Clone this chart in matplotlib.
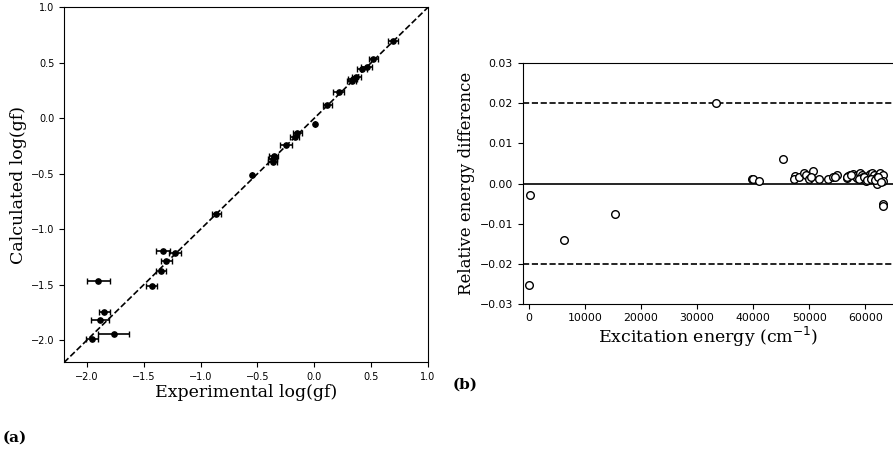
import numpy as np
import matplotlib
matplotlib.use('Agg')
import matplotlib.pyplot as plt

# (a) log(gf): experimental vs calculated, with experimental uncertainty
exp_loggf = [0.69, 0.52, 0.46, 0.42, 0.37, 0.34, 0.33, 0.215, 0.115, 0.01,
             -0.15, -0.17, -0.25, -0.355, -0.365, -0.365, -0.55, -0.86,
             -1.33, -1.225, -1.30, -1.35, -1.43, -1.90, -1.845, -1.885,
             -1.765, -1.955]
calc_loggf = [0.70, 0.53, 0.46, 0.445, 0.37, 0.355, 0.34, 0.237, 0.117, -0.054,
              -0.135, -0.166, -0.24, -0.34, -0.37, -0.39, -0.514, -0.865,
              -1.193, -1.211, -1.288, -1.373, -1.508, -1.466, -1.742, -1.817,
              -1.946, -1.986]
exp_err = [0.045, 0.04, 0.045, 0.04, 0.04, 0.04, 0.04, 0.05, 0.04, 0.0,
           0.04, 0.04, 0.05, 0.04, 0.04, 0.04, 0.0, 0.04,
           0.06, 0.05, 0.045, 0.045, 0.045, 0.10, 0.05, 0.077,
           0.14, 0.05]

# (b) relative energy difference vs excitation energy (cm-1)
exc_energy = [230, 100, 6350, 15440, 33390, 45390, 39750, 40040, 41100,
              47470, 47290, 48240, 49130, 49430, 50020, 50620, 50270, 51750,
              53410, 54190, 54900, 54600,
              56680, 56980, 57270, 57750, 58160, 58580, 59060, 59350, 59650,
              60120, 60540, 60840, 61190, 61550, 61850, 62030, 62320, 62620,
              62920, 63210, 63210, 63150, 63180,
              56800, 57500, 58900, 59800, 60300, 61000, 61700, 62200, 62800]
rel_diff = [-0.0028, -0.0254, -0.0142, -0.00765, 0.0201, 0.0061, 0.0011, 0.0012, 0.0005,
            0.0018, 0.0012, 0.0017, 0.0027, 0.0022, 0.0010, 0.0030, 0.0016, 0.0010,
            0.0010, 0.0016, 0.0020, 0.0017,
            0.00125, 0.00175, 0.0022, 0.0024, 0.0019, 0.0014, 0.0026, 0.0022, 0.0016,
            0.0006, 0.0019, 0.0024, 0.0026, 0.0022, 0.0013, -0.0001, 0.0019, 0.0026,
            0.0016, 0.0022, 0.0005, -0.0052, -0.0056,
            0.0015, 0.0020, 0.0012, 0.0017, 0.0009, 0.0011, 0.0008, 0.0015, 0.0004]

SERIF = 'DejaVu Serif'

fig = plt.figure(figsize=(8.93, 4.55), dpi=100)

# ── (a) ──────────────────────────────────────────────────────────────
ax1 = fig.add_axes([0.0717, 0.2033, 0.4076, 0.7807])
ax1.plot([-2.2, 1.0], [-2.2, 1.0], 'k--', lw=1.2)
ax1.errorbar(exp_loggf, calc_loggf, xerr=exp_err, fmt='o', color='k',
             ms=3.8, capsize=2, elinewidth=1.2, capthick=1.0)
ax1.set_xlim(-2.2, 1.0); ax1.set_ylim(-2.2, 1.0)
ax1.set_xticks(np.arange(-2.0, 1.01, 0.5)); ax1.set_yticks(np.arange(-2.0, 1.01, 0.5))
ax1.tick_params(labelsize=7)
ax1.set_xlabel('Experimental log(gf)', family=SERIF, fontsize=12.5, labelpad=1)
ax1.set_ylabel('Calculated log(gf)', family=SERIF, fontsize=12.5, labelpad=3)

# ── (b) ──────────────────────────────────────────────────────────────
ax2 = fig.add_axes([0.5853, 0.3325, 0.4147, 0.5284])
ax2.axhline(0.0, color='k', lw=1.2)
ax2.axhline(0.02, color='k', ls='--', lw=1.2)
ax2.axhline(-0.02, color='k', ls='--', lw=1.2)
ax2.plot(exc_energy, rel_diff, 'o', mfc='white', mec='k', ms=5.5, mew=1.0)
ax2.set_xlim(-1070, 64940); ax2.set_ylim(-0.03, 0.03)
ax2.set_xticks(np.arange(0, 60001, 10000))
ax2.set_yticks(np.arange(-0.03, 0.031, 0.01))
ax2.tick_params(labelsize=7.8)
ax2.spines['right'].set_visible(False)
ax2.set_xlabel('Excitation energy (cm$^{-1}$)', family=SERIF, fontsize=12.5, labelpad=1)
ax2.set_ylabel('Relative energy difference', family=SERIF, fontsize=12, labelpad=3)

fig.text(0.003, 0.03, '(a)', family=SERIF, fontweight='bold', fontsize=11)
fig.text(0.507, 0.145, '(b)', family=SERIF, fontweight='bold', fontsize=11)

fig.savefig('out.png', dpi=100)
